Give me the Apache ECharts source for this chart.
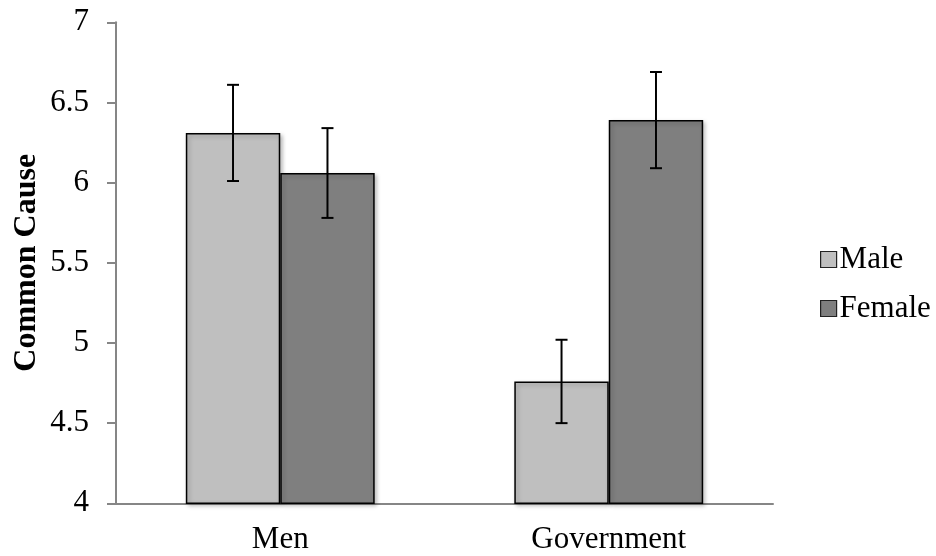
<!DOCTYPE html>
<html>
<head>
<meta charset="utf-8">
<script src="https://cdn.jsdelivr.net/npm/echarts@6/dist/echarts.min.js"></script>
<style>
html,body{margin:0;padding:0;background:#fff;}
#chart{width:936px;height:556px;}
</style>
</head>
<body>
<div id="chart"></div>
<script>
var categories = ['Men', 'Government'];
var seriesNames = ['Male', 'Female'];
var maleValues = [6.31, 4.76];
var femaleValues = [6.06, 6.39];
var maleErrors = [0.30, 0.26];
var femaleErrors = [0.28, 0.30];
var yTicks = [4, 4.5, 5, 5.5, 6, 6.5, 7];

var colors = ['#BFBFBF', '#7F7F7F'];
var barCategoryGap = 0.425;
var font = '"Liberation Serif", "Times New Roman", serif';
var fs = 31;

var errData = [];
[maleValues, femaleValues].forEach(function (vals, s) {
  var errs = s === 0 ? maleErrors : femaleErrors;
  vals.forEach(function (v, i) {
    errData.push([i, v - errs[i], v + errs[i], s]);
  });
});

var chart = echarts.init(document.getElementById('chart'), null, {renderer: 'canvas'});
chart.setOption({
  animation: false,
  grid: {left: 116, right: 163, top: 22.3, bottom: 52.7, containLabel: false},
  legend: {
    orient: 'vertical',
    left: 815,
    top: 239,
    icon: 'rect',
    itemWidth: 16,
    itemHeight: 16,
    itemGap: 18,
    data: seriesNames,
    textStyle: {fontFamily: font, fontSize: fs, color: '#000', padding: [0, 0, 0, -2]},
    itemStyle: {borderColor: '#222', borderWidth: 1.2}
  },
  xAxis: {
    type: 'category',
    data: categories,
    axisLine: {lineStyle: {color: '#868686', width: 2}},
    axisTick: {show: false},
    axisLabel: {fontFamily: font, fontSize: fs, color: '#000', margin: 21}
  },
  yAxis: {
    type: 'value',
    min: 4,
    max: 7,
    interval: 0.5,
    name: 'Common Cause',
    nameLocation: 'middle',
    nameGap: 73,
    nameMoveOverlap: false,
    nameRotate: 90,
    nameTextStyle: {fontFamily: font, fontSize: 32, fontWeight: 'bold', color: '#000'},
    axisLine: {show: true, lineStyle: {color: '#868686', width: 2}},
    axisTick: {show: true, inside: false, length: 9, lineStyle: {color: '#868686', width: 2}},
    splitLine: {show: false},
    axisLabel: {
      fontFamily: font, fontSize: fs, color: '#000', margin: 27,
      formatter: function (v) { return yTicks.indexOf(v) >= 0 ? String(v) : ''; }
    }
  },
  series: [
    {
      name: seriesNames[0], type: 'bar', data: maleValues,
      barGap: '0%', barCategoryGap: (barCategoryGap * 100) + '%',
      itemStyle: {color: colors[0], borderColor: '#000', borderWidth: 1.5,
        shadowBlur: 4, shadowOffsetX: 2, shadowOffsetY: 2, shadowColor: 'rgba(0,0,0,0.25)'}
    },
    {
      name: seriesNames[1], type: 'bar', data: femaleValues,
      barGap: '0%', barCategoryGap: (barCategoryGap * 100) + '%',
      itemStyle: {color: colors[1], borderColor: '#000', borderWidth: 1.5,
        shadowBlur: 4, shadowOffsetX: 2, shadowOffsetY: 2, shadowColor: 'rgba(0,0,0,0.25)'}
    },
    {
      type: 'custom',
      data: errData,
      z: 10,
      renderItem: function (params, api) {
        var cat = api.value(0);
        var s = api.value(3);
        var band = api.size([1, 0])[0];
        var bw = band * (1 - barCategoryGap) / 2;
        var off = (s === 0 ? -0.5 : 0.5) * bw;
        var lo = api.coord([cat, api.value(1)]);
        var hi = api.coord([cat, api.value(2)]);
        var x = lo[0] + off;
        var cap = 6;
        var style = {stroke: '#000', lineWidth: 2};
        return {
          type: 'group',
          children: [
            {type: 'line', shape: {x1: x, y1: lo[1], x2: x, y2: hi[1]}, style: style},
            {type: 'line', shape: {x1: x - cap, y1: lo[1], x2: x + cap, y2: lo[1]}, style: style},
            {type: 'line', shape: {x1: x - cap, y1: hi[1], x2: x + cap, y2: hi[1]}, style: style}
          ]
        };
      }
    }
  ]
});
</script>
</body>
</html>
